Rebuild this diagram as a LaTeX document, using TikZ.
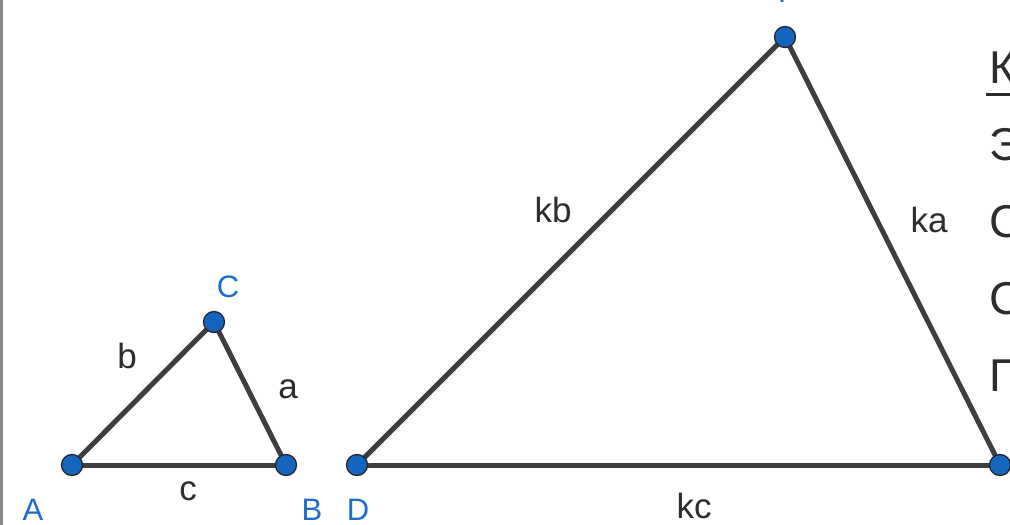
\documentclass[tikz,border=0pt]{standalone}
\usepackage{fontspec}
\setmainfont{Liberation Sans}
\definecolor{edgegray}{RGB}{62,62,62}
\definecolor{ptblue}{RGB}{21,101,192}
\definecolor{lblblue}{RGB}{32,108,204}
\definecolor{txtgray}{RGB}{45,45,45}
\definecolor{bordergray}{RGB}{136,136,136}
\begin{document}
\begin{tikzpicture}[x=1pt,y=-1pt,
  edge/.style={draw=edgegray,line width=5pt},
  pt/.style={circle,fill=ptblue,draw=black!85,line width=1.3pt,minimum size=21pt,inner sep=0pt},
  ptlbl/.style={text=lblblue,font=\fontsize{31}{36}\selectfont,anchor=base,inner sep=0pt},
  sidelbl/.style={text=txtgray,font=\fontsize{35}{40}\selectfont,anchor=base,inner sep=0pt},
  bigtxt/.style={text=txtgray,font=\fontsize{46}{52}\selectfont,anchor=base west,inner sep=0pt}]
\useasboundingbox (0,0) rectangle (1010,525);
\clip (0,0) rectangle (1010,525);
\fill[white] (0,0) rectangle (1010,525);
% left border
\fill[bordergray] (0,0) rectangle (3,525);
% vertices
\coordinate (A) at (72,465);
\coordinate (B) at (286,465);
\coordinate (C) at (214,322);
\coordinate (D) at (357,465);
\coordinate (E) at (1000,465);
\coordinate (F) at (785,37);
% edges
\draw[edge] (A) -- (B);
\draw[edge] (B) -- (C);
\draw[edge] (C) -- (A);
\draw[edge] (D) -- (E);
\draw[edge] (E) -- (F);
\draw[edge] (F) -- (D);
% points
\node[pt] (pA) at (A) {};
\node[pt] (pB) at (B) {};
\node[pt] (pC) at (C) {};
\node[pt] (pD) at (D) {};
\node[pt] (pE) at (E) {};
\node[pt] (pF) at (F) {};
% point labels
\node[ptlbl] (lA) at (33,520) {A};
\node[ptlbl] (lB) at (312,520) {B};
\node[ptlbl] (lC) at (228,297) {C};
\node[ptlbl] (lD) at (358,520) {D};
\node[ptlbl,anchor=base west] (lF) at (778,2) {F};
% side labels
\node[sidelbl] (sb) at (127,368) {b};
\node[sidelbl] (sa) at (288,398) {a};
\node[sidelbl] (sc) at (188,500) {c};
\node[sidelbl] (skb) at (553,222) {kb};
\node[sidelbl] (ska) at (929,232) {ka};
\node[sidelbl] (skc) at (694,518) {kc};
% right text (cut off)
\node[bigtxt] (t1) at (989,83) {К};
\fill[txtgray] (986,93) rectangle (1010,96);
\node[bigtxt] (t2) at (989,160) {Э};
\node[bigtxt] (t3) at (989,237) {С};
\node[bigtxt] (t4) at (989,314) {С};
\node[bigtxt] (t5) at (989,391) {П};
\end{tikzpicture}
\end{document}
